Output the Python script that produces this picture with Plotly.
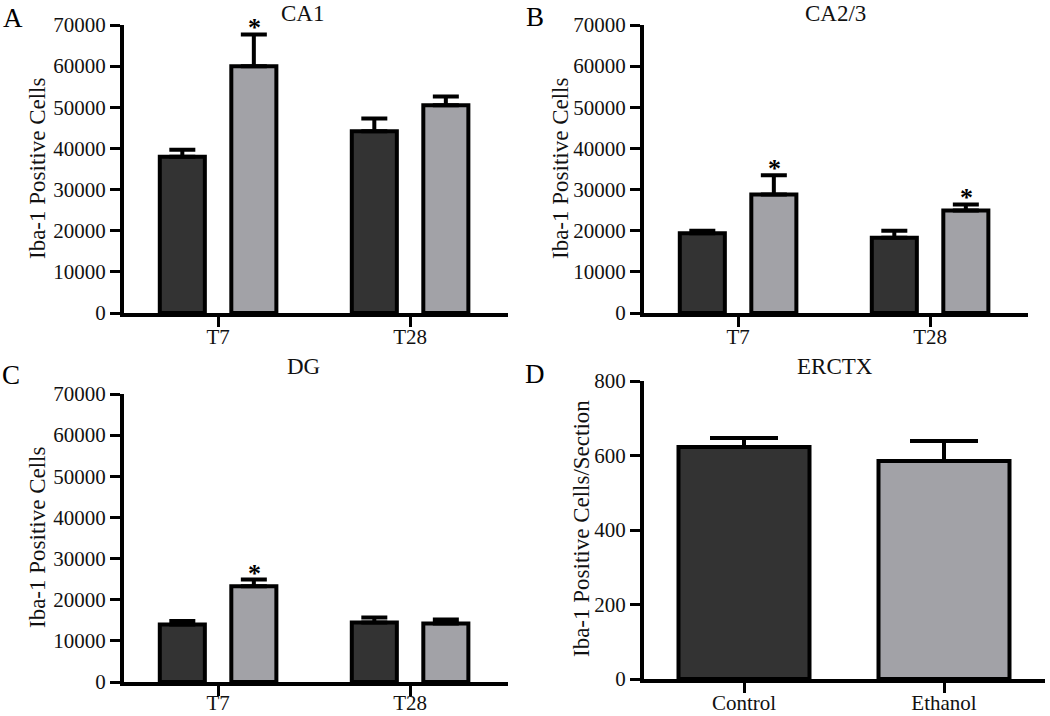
import plotly.graph_objects as go

# ---------------- data ----------------
timepoints = ["T7", "T28"]
ca1_control = [38000, 44200]
ca1_control_err = [1700, 3100]
ca1_ethanol = [60000, 50500]
ca1_ethanol_err = [7700, 2100]

ca23_control = [19400, 18300]
ca23_control_err = [600, 1700]
ca23_ethanol = [28800, 24900]
ca23_ethanol_err = [4700, 1500]

dg_control = [14000, 14450]
dg_control_err = [800, 1200]
dg_ethanol = [23300, 14200]
dg_ethanol_err = [1600, 1000]

erctx_groups = ["Control", "Ethanol"]
erctx_values = [623, 585]
erctx_err = [24, 54]

# significance stars: (series index, category index)
ca1_sig = [(1, 0)]
ca23_sig = [(1, 0), (1, 1)]
dg_sig = [(1, 0)]

panel_titles = ["CA1", "CA2/3", "DG", "ERCTX"]
panel_letters = ["A", "B", "C", "D"]
y_title_hippo = "Iba-1 Positive Cells"
y_title_ctx = "Iba-1 Positive Cells/Section"

# ---------------- style ----------------
W, H = 1050, 716
DARK = "#333333"
LIGHT = "#a2a2a7"
FONT = "Liberation Serif"


def px_x(p):
    return min(max(p / W, 0.0), 1.0)


def px_y(p):
    return min(max(1 - p / H, 0.0), 1.0)


fig = go.Figure()

panels = [
    ("", (124, 508), (25, 313), -8, ca1_control, ca1_control_err, ca1_ethanol, ca1_ethanol_err, ca1_sig),
    ("2", (644, 1028), (25, 313), -8, ca23_control, ca23_control_err, ca23_ethanol, ca23_ethanol_err, ca23_sig),
    ("3", (124, 508), (394, 682), -11, dg_control, dg_control_err, dg_ethanol, dg_ethanol_err, dg_sig),
]

annotations = []
axis_common = dict(
    showline=True, linewidth=4, linecolor="black", ticks="outside", ticklen=10,
    tickwidth=3, tickcolor="black", showgrid=False, zeroline=False,
    tickfont=dict(family=FONT, size=21, color="#111111"), fixedrange=True,
    automargin=False,
)

for aid, (x0, x1), (y0, y1), stand, ctrl, ctrl_e, eth, eth_e, sig in panels:
    xa = "x" + aid
    ya = "y" + aid
    for vals, errs, col in ((ctrl, ctrl_e, DARK), (eth, eth_e, LIGHT)):
        fig.add_trace(go.Bar(
            x=timepoints, y=vals, xaxis=xa, yaxis=ya,
            marker=dict(color=col, line=dict(color="black", width=4)),
            error_y=dict(type="data", symmetric=False, array=errs,
                         arrayminus=[0] * len(errs), color="black",
                         thickness=4, width=13),
            showlegend=False, offsetgroup=col,
        ))
    fig.layout["xaxis" + aid] = go.layout.XAxis(
        domain=[px_x(x0), px_x(x1)], anchor=ya, range=[-0.49, 1.51],
        type="category", ticklabelstandoff=stand, **axis_common)
    fig.layout["yaxis" + aid] = go.layout.YAxis(
        domain=[px_y(y1), px_y(y0)], anchor=xa, range=[0, 70000],
        dtick=10000, tickformat="d", **axis_common)
    for s_idx, c_idx in sig:
        series_vals = ctrl if s_idx == 0 else eth
        series_err = ctrl_e if s_idx == 0 else eth_e
        annotations.append(dict(
            x=timepoints[c_idx], y=series_vals[c_idx] + series_err[c_idx],
            xref=xa, yref=ya, text="<b>*</b>", showarrow=False,
            xshift=-36 if s_idx == 0 else 36, yanchor="bottom", yshift=-10,
            font=dict(family=FONT, size=26, color="black"),
        ))

# Panel D
fig.add_trace(go.Bar(
    x=erctx_groups, y=erctx_values, xaxis="x4", yaxis="y4", width=0.655,
    marker=dict(color=[DARK, LIGHT], line=dict(color="black", width=4)),
    error_y=dict(type="data", symmetric=False, array=erctx_err,
                 arrayminus=[0, 0], color="black", thickness=4, width=34),
    showlegend=False,
))
fig.layout["xaxis4"] = go.layout.XAxis(
    domain=[px_x(644), px_x(1045)], anchor="y4", range=[-0.5, 1.505],
    type="category", ticklabelstandoff=-8, **axis_common)
fig.layout["yaxis4"] = go.layout.YAxis(
    domain=[px_y(679), px_y(381)], anchor="x4", range=[0, 800],
    dtick=200, **axis_common)

# Panel titles
title_pos = [(302, 14), (835, 14), (303, 366), (835, 366)]
for t, (tx, ty) in zip(panel_titles, title_pos):
    annotations.append(dict(
        x=px_x(tx), y=px_y(ty), xref="paper", yref="paper", text=t,
        showarrow=False, xanchor="center", yanchor="middle",
        font=dict(family=FONT, size=23, color="#111111")))

# Panel letters
letter_pos = [(13, 18), (535, 17), (11, 375), (535, 374)]
for t, (tx, ty) in zip(panel_letters, letter_pos):
    annotations.append(dict(
        x=px_x(tx), y=px_y(ty), xref="paper", yref="paper", text=t,
        showarrow=False, xanchor="center", yanchor="middle",
        font=dict(family=FONT, size=27, color="black")))

# Y axis titles
ytitles = [(y_title_hippo, 37, 169), (y_title_hippo, 560, 169),
           (y_title_hippo, 37, 538), (y_title_ctx, 581, 529)]
for t, tx, ty in ytitles:
    annotations.append(dict(
        x=px_x(tx), y=px_y(ty), xref="paper", yref="paper", text=t,
        showarrow=False, textangle=-90, xanchor="center", yanchor="middle",
        font=dict(family=FONT, size=23, color="#111111")))

fig.update_layout(
    width=W, height=H, margin=dict(l=0, r=0, t=0, b=0, autoexpand=False),
    paper_bgcolor="white", plot_bgcolor="white",
    barmode="group", bargap=0.255, bargroupgap=0.37,
    annotations=annotations,
)

fig.write_html(
    "out.html",
    config={"displayModeBar": False},
    post_script="document.body.style.margin='0';document.body.style.overflow='hidden';",
)
